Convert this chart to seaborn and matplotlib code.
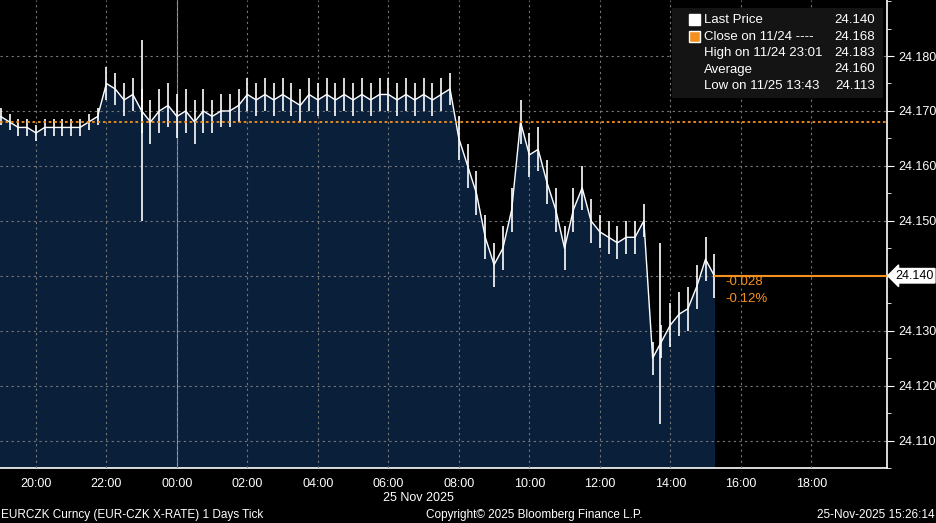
import numpy as np
import pandas as pd
import matplotlib
matplotlib.use("Agg")
import matplotlib.pyplot as plt
import seaborn as sns

start_hour = 19.0
step = 0.25
close = [24.169,24.168,24.167,24.167,24.166,24.167,24.167,24.167,24.167,24.167,24.168,24.169,
         24.175,24.174,24.172,24.173,
         24.170,24.168,24.170,24.171,
         24.169,24.170,24.168,24.170,
         24.169,24.170,24.170,24.171,
         24.173,24.172,24.173,24.172,
         24.173,24.172,24.171,24.173,
         24.172,24.173,24.172,24.173,
         24.172,24.173,24.172,24.173,
         24.173,24.172,24.173,24.172,
         24.173,24.172,24.173,24.174,
         24.165,24.160,24.155,24.147,
         24.142,24.145,24.152,24.168,
         24.162,24.163,24.157,24.152,
         24.145,24.152,24.156,24.150,
         24.148,24.147,24.146,24.147,
         24.147,24.150,24.125,24.128,
         24.131,24.133,24.134,24.138,
         24.143,24.140]
spread = [0.0015]*12 + [0.003]*4 + [0.004]*8 + [0.003]*28 + [0.004]*16 + [0.003]*8 + [0.004]*6
extreme_times = [23.02, 37.72]
extreme_hi = [24.183, 24.146]
extreme_lo = [24.150, 24.113]
prev_close = 24.168
last_price = 24.140
xtick_hours = [20, 22, 24, 26, 28, 30, 32, 34, 36, 38, 40, 42]
xtick_labels = ["20:00","22:00","00:00","02:00","04:00","06:00","08:00","10:00","12:00","14:00","16:00","18:00"]
yticks = [24.110, 24.120, 24.130, 24.140, 24.150, 24.160, 24.170, 24.180]

df = pd.DataFrame({"hour": start_hour + step*np.arange(len(close)), "close": close, "spread": spread})
df["hi"] = df["close"] + df["spread"]
df["lo"] = df["close"] - df["spread"]

sns.set_style("dark")
plt.rcParams["font.family"] = ["Liberation Sans", "DejaVu Sans"]
fig = plt.figure(figsize=(9.37, 5.23), dpi=100, facecolor="black")
ax = fig.add_axes([0, 55/523, 887/937, 468/523], facecolor="black")
xmin, xmax = 18.98, 44.15
ax.set_xlim(xmin, xmax)
ax.set_ylim(24.1066, 24.1902)

ax.fill_between(df["hour"], df["close"], 24.0, color="#0a1f3a", zorder=1)
ax.vlines(df["hour"], df["lo"], df["hi"], color="white", lw=1.2, zorder=3)
ax.vlines(extreme_times, extreme_lo, extreme_hi, color="white", lw=1.2, zorder=3)
sns.lineplot(data=df, x="hour", y="close", color="white", lw=1.0, ax=ax, zorder=3)

ax.axhline(prev_close, color="#f5901e", ls=(0, (1.5, 1.5)), lw=1.3, zorder=4)
ax.hlines(last_price, df["hour"].iloc[-1], xmax, color="#f5901e", lw=1.5, zorder=4)
ax.text(df["hour"].iloc[-1] + 0.3, last_price - 0.0012, "-0.028", color="#f5901e", fontsize=9.5, va="center")
ax.text(df["hour"].iloc[-1] + 0.3, last_price - 0.0042, "-0.12%", color="#f5901e", fontsize=9.5, va="center")

ax.set_xticks(xtick_hours)
ax.set_xticklabels(xtick_labels)
ax.set_xticks(np.arange(19, 45, 1), minor=True)
ax.yaxis.tick_right()
ax.set_yticks(yticks)
ax.set_yticklabels(["" if v == last_price else f"{v:.3f}" for v in yticks])
ax.set_yticks(np.arange(24.105, 24.19, 0.005), minor=True)
ax.tick_params(colors="white", labelsize=9, length=5, direction="out")
ax.tick_params(axis="y", pad=3)
ax.tick_params(axis="x", pad=2)
ax.tick_params(which="minor", colors="white", length=3)
ax.grid(True, color="#777777", ls=(0, (2, 3)), lw=0.8)
ax.set_axisbelow(False)
for g in ax.get_xgridlines() + ax.get_ygridlines():
    g.set_zorder(2)
for s in ["top", "left"]:
    ax.spines[s].set_visible(False)
for s in ["right", "bottom"]:
    ax.spines[s].set_visible(True)
    ax.spines[s].set_color("white")
    ax.spines[s].set_linewidth(1.2)
ax.set_xlabel(""); ax.set_ylabel("")
ax.axvline(24, color="#999999", lw=0.8, zorder=2)

ax.annotate(f"{last_price:.3f}", xy=(1.0, last_price), xycoords=("axes fraction", "data"),
            xytext=(6, 0), textcoords="offset points", va="center", ha="left", fontsize=9, color="black",
            bbox=dict(boxstyle="larrow,pad=0.1", fc="white", ec="white"), annotation_clip=False)

# legend box
lx0, ly0 = 672/937, 1 - 98/523
fig.patches.append(plt.Rectangle((lx0, ly0), 211/937, 90/523, transform=fig.transFigure,
                                 facecolor="#141414", edgecolor="none", zorder=5))
rows = [("Last Price", "24.140", "white"), ("Close on 11/24 ----", "24.168", "#f5901e"),
        ("High on 11/24 23:01", "24.183", None), ("Average", "24.160", None),
        ("Low on 11/25 13:43", "24.113", None)]
for i, (lab, val, sq) in enumerate(rows):
    y = 1 - (20 + 16.5*i)/523
    if sq:
        fig.patches.append(plt.Rectangle((689/937, y - 5/523), 11/937, 11/523, transform=fig.transFigure,
                                         facecolor=sq, zorder=6))
    fig.text(704/937, y, lab, color="white", fontsize=9.5, va="center", zorder=6)
    fig.text(875/937, y, val, color="white", fontsize=9.5, va="center", ha="right", zorder=6)
fig.text(1/937, 1 - 515/523, "EURCZK Curncy (EUR-CZK X-RATE) 1 Days Tick", color="white", fontsize=8.5, va="center")
fig.text(534/937, 1 - 515/523, "Copyright© 2025 Bloomberg Finance L.P.", color="white", fontsize=8.5, va="center", ha="center")
fig.text(935/937, 1 - 515/523, "25-Nov-2025 15:26:14", color="white", fontsize=8.5, va="center", ha="right")
fig.text(418/937, 1 - 498/523, "25 Nov 2025", color="white", fontsize=9, va="center", ha="center")
fig.savefig("out.png", dpi=100, facecolor="black")
